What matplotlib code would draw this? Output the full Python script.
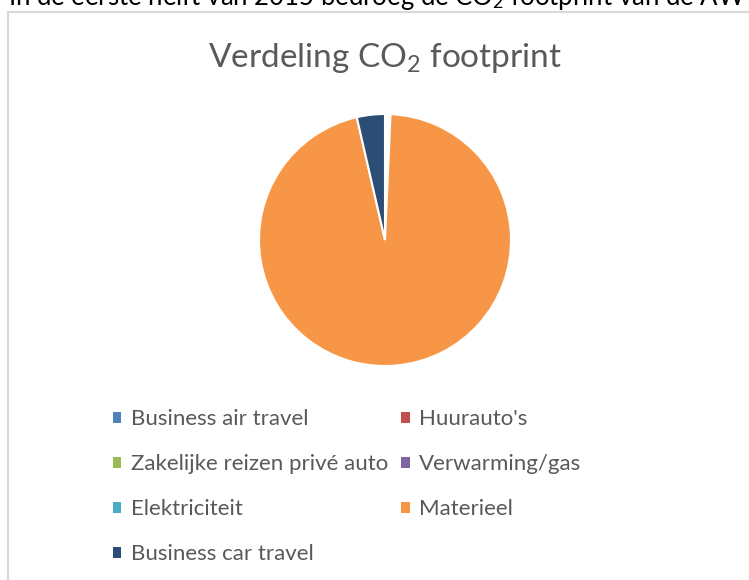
import matplotlib.pyplot as plt
from matplotlib.patches import Rectangle, Patch

plt.rcParams['font.family'] = ['Lato', 'DejaVu Sans']
plt.rcParams['mathtext.fontset'] = 'custom'
plt.rcParams['mathtext.rm'] = 'Lato'
plt.rcParams['mathtext.it'] = 'Lato:italic'

# categories in the order Excel draws them (clockwise from 12 o'clock)
categories = ['Business air travel', "Huurauto's", 'Zakelijke reizen privé auto',
              'Verwarming/gas', 'Elektriciteit', 'Materieel', 'Business car travel']
# share of the footprint (%)
shares = [0.2, 0.1, 0.2, 0.1, 0.1, 95.7, 3.6]

colors = ['#4F81BD', '#C0504D', '#9BBB59', '#8064A2', '#4BACC6', '#F79646', '#2C4D75']

W, H = 749, 580
fig = plt.figure(figsize=(W / 100, H / 100), dpi=100)

# pie centre (385, 240) px, radius 126 px
cx, cy, r = 385, 240, 126
ax = fig.add_axes([(cx - r) / W, (H - cy - r) / H, 2 * r / W, 2 * r / H])
wedges, _ = ax.pie(shares, colors=colors, startangle=90, counterclock=False,
                   radius=1, wedgeprops=dict(edgecolor='white', linewidth=1.5))
ax.set_xlim(-1, 1)
ax.set_ylim(-1, 1)
ax.axis('off')

# chart frame (only left and top edge are inside the picture)
frame = Rectangle((8 / W, -0.5), 2, 1.5 - 11.5 / H, transform=fig.transFigure,
                  fill=False, edgecolor='#D9D9D9', linewidth=1.5, clip_on=False)
fig.add_artist(frame)

# text of the page above the chart, cut off at the top
fig.text(8 / W, 1 - 5 / H,
         'In de eerste helft van 2015 bedroeg de CO$_2$ footprint van de AW',
         fontsize=18.5, color='black', va='baseline', ha='left')

fig.text(cx / W, 1 - 67 / H, 'Verdeling CO$_2$ footprint', fontsize=24,
         color='#595959', ha='center', va='baseline')

# legend filled row by row, like Excel does
order = [0, 2, 4, 6, 1, 3, 5]
handles = [Patch(facecolor=colors[i], edgecolor='none') for i in order]
ax.legend(handles, [categories[i] for i in order],
          loc='upper left', bbox_to_anchor=(113 / W, 1 - 409 / H),
          bbox_transform=fig.transFigure, ncol=2, frameon=False,
          fontsize=16, labelcolor='#595959', handlelength=0.38,
          handleheight=0.38, handletextpad=0.42, columnspacing=0.6,
          labelspacing=1.13, borderpad=0, borderaxespad=0)

fig.savefig('out.png', dpi=100)
